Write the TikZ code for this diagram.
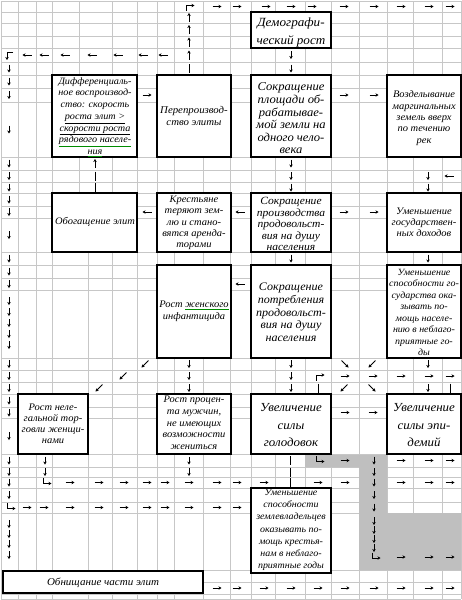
\documentclass[tikz,border=0pt]{standalone}
\usepackage{fontspec}
\setmainfont{Liberation Serif}
\newfontfamily\cur[FakeStretch=1.05]{Liberation Serif Italic}
\usetikzlibrary{arrows.meta}
\tikzset{
  gridline/.style={draw=black!22, line width=0.6pt},
  glyph/.style={line width=0.75pt, -{Stealth[length=3pt,width=3.4pt]}},
  barline/.style={line width=0.9pt},
  boxnode/.style={draw=black, fill=white, line width=1.5pt, inner sep=0pt, outer sep=0pt, anchor=north west},
  btxt/.style={align=center, inner sep=0pt},
}
\newcommand\zR[2]{\draw[glyph] (#1-4.5,#2) -- (#1+4.5,#2);}
\newcommand\zL[2]{\draw[glyph] (#1+4.5,#2) -- (#1-4.5,#2);}
\newcommand\zD[2]{\draw[glyph] (#1,#2-4) -- (#1,#2+4);}
\newcommand\zU[2]{\draw[glyph] (#1,#2+4.5) -- (#1,#2-4.5);}
\newcommand\zB[2]{\draw[barline] (#1,#2-4.5) -- (#1,#2+4.5);}
\newcommand\zSW[2]{\draw[glyph] (#1+3.5,#2-3.5) -- (#1-3.5,#2+3.5);}
\newcommand\zSE[2]{\draw[glyph] (#1-3.5,#2-3.5) -- (#1+3.5,#2+3.5);}
\newcommand\zDR[2]{\draw[glyph] (#1-4,#2-4.5) -- (#1-4,#2+1) -- (#1+4.5,#2+1);}
\newcommand\zUR[2]{\draw[glyph] (#1-4,#2+4.5) -- (#1-4,#2-1) -- (#1+4.5,#2-1);}
\newcommand\zLD[2]{\draw[glyph] (#1+4,#2-3) -- (#1-2,#2-3) -- (#1-2,#2+5);}
\newcommand\BX[5]{\node[boxnode, minimum width=#4-#2, minimum height=#5-#3] (#1) at (#2,#3) {};}
\newcommand\TX[5]{\begin{scope}\clip (#1.north west) rectangle (#1.south east);
  \node[btxt, font={\cur\fontsize{#3}{#4}\selectfont}] (#1t) at (#2) {#5};\end{scope}}
\newcommand\ul[1]{\underline{#1}}
\newcommand\gul[1]{\textcolor{green!55!black}{\underline{\textcolor{black}{#1}}}}
\begin{document}
\begin{tikzpicture}[x=1pt,y=-1pt]
\useasboundingbox (0,0) rectangle (462,600);
\fill[white] (0,0) rectangle (462,600);
% grid
\foreach \q in {1,12,23,36,48,62,75,88,102,157,170,182,193,206,218,252,265,278,290,358,370,382,394,407,418,454,467,477,488,502,513,570,582,594,599}
  \draw[gridline] (1,\q) -- (461,\q);
\foreach \p in {1,18,36,52,79,112,137,157,174,203,230,251,275,305,331,359,387,413,442,461}
  \draw[gridline] (\p,1) -- (\p,252);
\foreach \p in {1,18,36,52,88,112,137,157,174,203,230,251,275,305,331,359,387,413,442,461}
  \draw[gridline] (\p,252) -- (\p,599);
% grey area
\fill[black!25] (305,455) -- (387,455) -- (387,513) -- (461,513) -- (461,570) -- (359,570) -- (359,467) -- (305,467) -- cycle;
% boxes
\BX{b1}{251}{12}{331}{48}
\BX{b2}{52}{75}{137}{157}
\BX{b3}{157}{75}{231}{157}
\BX{b4}{251}{75}{331}{157}
\BX{b5}{387}{75}{461}{157}
\BX{b6}{52}{193}{137}{252}
\BX{b7}{157}{193}{231}{252}
\BX{b8}{251}{193}{331}{252}
\BX{b9}{387}{193}{461}{252}
\BX{b10}{157}{265}{231}{358}
\BX{b11}{251}{265}{331}{358}
\BX{b12}{387}{265}{461}{358}
\BX{b13}{18}{394}{88}{454}
\BX{b14}{157}{394}{231}{454}
\BX{b15}{251}{394}{331}{454}
\BX{b16}{387}{394}{461}{454}
\BX{b17}{251}{488}{331}{573}
\BX{b18}{3}{571}{203}{593}
% texts
\TX{b1}{291,32}{12.5}{18}{Демографи-\\ческий рост}
\TX{b2}{95,117}{9.7}{11.7}{Дифференциаль-\\ное воспроизвод-\\ство: скорость\\\ul{роста элит >}\\\ul{скорости роста}\\\gul{рядового населе-}\\\gul{ния}}
\TX{b3}{194,116}{10.3}{12}{Перепроизвод-\\ство элиты}
\TX{b4}{291,118.5}{12}{12.6}{Сокращение\\площади об-\\рабатывае-\\мой земли на\\одного чело-\\века}
\TX{b5}{424,118}{10}{11.3}{Возделывание\\маргинальных\\земель вверх\\по течению\\рек}
\TX{b6}{95,222}{10}{12}{Обогащение элит}
\TX{b7}{194,223}{10}{11.3}{Крестьяне\\теряют зем-\\лю и стано-\\вятся аренда-\\торами}
\TX{b8}{291,224}{11}{11.5}{Сокращение\\производства\\продовольст-\\вия на душу\\населения}
\TX{b9}{424,222}{10}{10.8}{Уменьшение\\государствен-\\ных доходов}
\TX{b10}{194,311}{10}{12}{Рост \gul{женского}\\инфантицида}
\TX{b11}{291,312.5}{11.5}{12.7}{Сокращение\\потребления\\продовольст-\\вия на душу\\населения}
\TX{b12}{424,312.5}{9.5}{11.5}{Уменьшение\\способности го-\\сударства ока-\\зывать по-\\мощь населе-\\нию в неблаго-\\приятные го-\\ды}
\TX{b13}{53,424}{10}{11}{Рост неле-\\гальной тор-\\говли женщи-\\нами}
\TX{b14}{194,423}{10}{11.7}{Рост процен-\\та мужчин,\\не имеющих\\возможности\\жениться}
\TX{b15}{291,425.5}{12.3}{17.5}{Увеличение\\силы\\голодовок}
\TX{b16}{424,425.5}{12.3}{17.5}{Увеличение\\силы эпи-\\демий}
\TX{b17}{291,530}{9.5}{12.2}{Уменьшение\\способности\\землевладельцев\\оказывать по-\\мощь крестья-\\нам в неблаго-\\приятные годы}
\TX{b18}{103,583}{10.5}{12}{Обнищание части элит}
% arrows: right
\foreach \p/\q in {217/6.5,237/6.5,266/6.5,291/6.5,312/6.5,344/6.5,374/6.5,401/6.5,429/6.5,450/6.5,
  147/95,344/95,374/95, 344/212,374/212,
  345/376,373/376,401/376,429/376,450/376, 345/412.5,373/412.5,
  345/460.5,401/460.5,429/460.5,450/460.5,
  70/482.5,99/482.5,124/482.5,147/482.5,165/482.5,189/482.5,217/482.5,237/482.5,264/482.5,318/482.5,345/482.5,401/482.5,429/482.5,450/482.5,
  27/507.5,44/507.5,70/507.5,99/507.5,124/507.5,147/507.5,165/507.5,189/507.5,217/507.5,237/507.5,
  401/557,429/557,450/557,
  217/588,237/588,264/588,291/588,318/588,345/588,374/588,401/588,429/588,450/588}
  {\zR{\p}{\q}}
% left
\foreach \p/\q in {27/55,44/55,65/55,92/55,118/55,143/55,163/55, 449/176, 147/212,240/212, 240/284}
  {\zL{\p}{\q}}
% down
\foreach \p/\q in {9/68.5,9/81.5,9/95,9/129.5,9/163.5,9/176,9/187.5,9/199.5,9/212,9/235,9/258.5,9/271.5,9/284,
  9/301,9/312,9/323,9/334,9/345,9/364,9/376,9/388,9/400.5,9/412.5,9/436,9/460.5,9/472,9/482.5,9/495,
  9/524,9/534,9/544,9/555,
  291/55,291/68.5, 291/163.5,291/176,291/187.5, 428/176,428/187.5, 291/258.5,428/258.5,
  189/364,291/364,428/364, 189/376,291/376, 189/388,291/388,428/388,
  45/460.5,189/460.5,374/460.5, 45/472,189/472,374/472, 374/482.5, 374/495, 374/507.5,
  374/521,374/530,374/539,374/548}
  {\zD{\p}{\q}}
% up
\foreach \p/\q in {189/17.5,189/29.5,189/42,189/55, 95/163.5}
  {\zU{\p}{\q}}
% bars
\foreach \p/\q in {189/68.5, 95/176, 95/187.5, 318/388, 450/388, 290/460.5, 290/472, 290/482.5}
  {\zB{\p}{\q}}
% diagonal
\foreach \p/\q in {145/364,372/364,123/376,99/388,344/388}
  {\zSW{\p}{\q}}
\foreach \p/\q in {345/364,372/388}
  {\zSE{\p}{\q}}
% corners
\zUR{190}{6.5}
\zUR{320}{376}
\zLD{9}{55}
\zDR{320}{460.5}
\zDR{47}{482.5}
\zDR{11}{507.5}
\zDR{376}{557}
\end{tikzpicture}
\end{document}
